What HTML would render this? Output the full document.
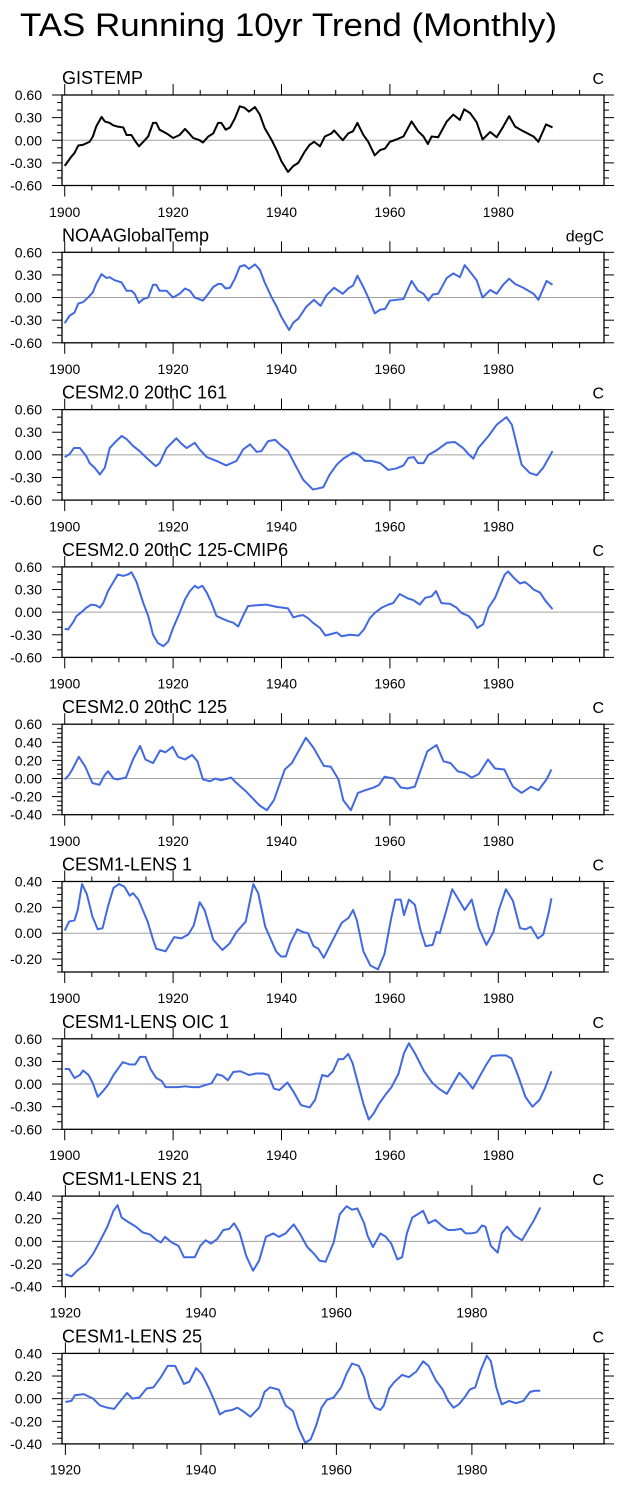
<!DOCTYPE html>
<html><head><meta charset="utf-8"><style>
html,body{margin:0;padding:0;background:#fff;}
svg{display:block;font-family:"Liberation Sans",Arial,sans-serif;}
</style></head><body>
<svg id="fig" width="624" height="1485" viewBox="0 0 624 1485" xmlns="http://www.w3.org/2000/svg">
<text x="20" y="36" font-size="32" textLength="537" lengthAdjust="spacingAndGlyphs">TAS Running 10yr Trend (Monthly)</text>
</svg>
<script>
// ---- data (years / values per panel) ----
const titles = ["GISTEMP","NOAAGlobalTemp","CESM2.0 20thC 161","CESM2.0 20thC 125-CMIP6","CESM2.0 20thC 125","CESM1-LENS 1","CESM1-LENS OIC 1","CESM1-LENS 21","CESM1-LENS 25"];
const units = ["C","degC","C","C","C","C","C","C","C"];

const yrs1 = [1900,1900.6,1901.2,1901.8,1902.5,1903.4,1904.6,1905.2,1905.8,1906.8,1907.4,1908.3,1908.9,1909.8,1910.8,1911.4,1912.3,1912.9,1913.7,1914.5,1915.4,1916.3,1916.9,1917.5,1918.8,1920,1921.2,1922.2,1923.1,1923.7,1924.9,1925.5,1926.5,1927.4,1928.3,1928.9,1929.7,1930.5,1931.4,1932.3,1933.2,1934,1935.1,1936,1936.9,1938.2,1939.1,1940,1941.2,1942.2,1943.1,1944.3,1945.2,1946,1947.1,1948,1949.2,1949.7,1951.3,1952.3,1953.2,1954,1955.1,1956,1957.2,1958.2,1959.1,1960,1961.2,1962.5,1964,1965.2,1966.2,1967,1967.7,1968.9,1970.5,1971.7,1972.9,1973.7,1974.8,1976,1977.1,1978.5,1979.7,1980.9,1982,1983.1,1984.6,1986.5,1987.4,1988.8,1990];
const vals1 = [-0.34,-0.28,-0.22,-0.17,-0.07,-0.06,-0.02,0.05,0.18,0.31,0.25,0.23,0.20,0.18,0.17,0.07,0.07,0.0,-0.08,-0.02,0.05,0.23,0.23,0.14,0.09,0.03,0.07,0.15,0.08,0.03,0.0,-0.03,0.05,0.09,0.23,0.23,0.14,0.17,0.29,0.45,0.43,0.38,0.44,0.34,0.16,0.0,-0.13,-0.28,-0.42,-0.34,-0.30,-0.15,-0.06,-0.02,-0.08,0.05,0.09,0.13,0.0,0.09,0.12,0.23,0.07,-0.02,-0.20,-0.13,-0.11,-0.02,0.01,0.05,0.25,0.12,0.05,-0.05,0.05,0.04,0.25,0.34,0.27,0.41,0.36,0.24,0.01,0.11,0.04,0.18,0.32,0.18,0.12,0.05,-0.02,0.21,0.17];

const yrs2 = [1900,1900.9,1901.8,1902.5,1903.4,1904.3,1905.2,1905.8,1906.8,1907.7,1908.3,1909.2,1910.5,1911.4,1912.3,1912.9,1913.7,1914.5,1915.4,1916.3,1916.9,1917.5,1918.8,1920,1921.2,1922.2,1923.1,1924,1925.5,1926.5,1927.4,1928.3,1928.9,1929.7,1930.5,1931.4,1932.3,1933.2,1934,1935.1,1936,1936.9,1938.2,1939.1,1940,1941.4,1942.2,1943.1,1944.6,1945.2,1946,1947.2,1948.3,1949.7,1951.3,1952.3,1953.2,1954,1955.1,1956,1957.2,1958.2,1959.1,1960,1961.2,1962.5,1964,1965.2,1966.2,1967.1,1967.9,1968.9,1970.5,1971.7,1972.9,1973.8,1974.8,1976,1977.1,1978.5,1979.7,1980.9,1982,1983.1,1984.6,1986.5,1987.4,1988.9,1990];
const vals2 = [-0.34,-0.24,-0.2,-0.08,-0.06,0,0.07,0.18,0.31,0.26,0.27,0.23,0.2,0.09,0.09,0.05,-0.07,-0.02,0,0.17,0.17,0.09,0.09,0,0.05,0.12,0.09,0,-0.04,0.05,0.14,0.18,0.18,0.12,0.13,0.25,0.41,0.43,0.38,0.44,0.37,0.2,0,-0.12,-0.26,-0.43,-0.33,-0.28,-0.12,-0.08,-0.03,-0.11,0.03,0.13,0.05,0.12,0.16,0.29,0.14,0,-0.21,-0.16,-0.15,-0.04,-0.03,-0.02,0.22,0.09,0.05,-0.04,0.04,0.05,0.26,0.32,0.27,0.43,0.34,0.23,0,0.1,0.05,0.17,0.25,0.18,0.13,0.05,-0.03,0.22,0.17];

const yrs3 = [1900,1900.9,1901.7,1902.8,1904,1904.6,1905.5,1906.5,1907.4,1908.3,1909.2,1910.5,1911.4,1912.6,1913.8,1915.1,1916.8,1917.5,1918.8,1920.6,1921.5,1922.5,1924,1924.9,1926.2,1928,1929.8,1931.7,1932.9,1934.2,1935.4,1936.3,1937.5,1938.8,1940,1941.2,1942.5,1944,1945.8,1947.7,1948.9,1950.2,1951.4,1953.2,1954.2,1955.4,1956.6,1958.2,1959.7,1961.2,1962.5,1963.4,1964.4,1965.2,1966.2,1967.1,1968.6,1970.5,1972,1973.5,1974.5,1975.4,1976.3,1978.2,1979.7,1981.5,1982.5,1984.3,1985.8,1987.1,1988.3,1990];
const vals3 = [-0.03,0.01,0.09,0.09,-0.02,-0.11,-0.17,-0.26,-0.17,0.09,0.16,0.25,0.21,0.12,0.05,-0.04,-0.15,-0.11,0.09,0.22,0.15,0.09,0.16,0.07,-0.03,-0.08,-0.14,-0.08,0.07,0.14,0.04,0.05,0.18,0.2,0.12,0.05,-0.13,-0.33,-0.46,-0.43,-0.26,-0.13,-0.05,0.03,0,-0.08,-0.08,-0.11,-0.2,-0.18,-0.14,-0.04,-0.03,-0.11,-0.11,0,0.06,0.16,0.17,0.09,0.01,-0.05,0.09,0.25,0.4,0.5,0.4,-0.13,-0.24,-0.27,-0.17,0.05];

const yrs4 = [1900,1900.6,1901.5,1902.2,1903.1,1904,1904.9,1905.8,1906.5,1907.1,1908,1908.9,1909.8,1910.8,1911.7,1912.3,1913.2,1914.5,1915.4,1916.3,1917.2,1918.2,1919.1,1920,1921.2,1922.2,1923.1,1924,1924.6,1925.4,1926.2,1927.1,1928,1929.2,1930.2,1931.1,1932,1932.9,1933.8,1935.1,1937.2,1939.1,1941.2,1942.2,1943.1,1944,1944.9,1945.8,1947.1,1948.1,1949.2,1950.2,1951.1,1952.6,1954.2,1955.2,1956.3,1957.2,1958.5,1959.7,1960.6,1961.8,1963.4,1964.3,1965.5,1966.5,1967.7,1968.5,1969.5,1971.1,1972.3,1973.2,1974.5,1975.4,1976.1,1977.2,1978.2,1979.4,1980.3,1981.2,1981.8,1982.8,1984,1984.9,1985.8,1986.5,1987.7,1988.6,1990];
const vals4 = [-0.22,-0.23,-0.14,-0.05,0,0.06,0.1,0.09,0.06,0.12,0.28,0.39,0.5,0.48,0.5,0.53,0.41,0.12,-0.05,-0.3,-0.41,-0.45,-0.39,-0.21,-0.01,0.17,0.28,0.35,0.32,0.35,0.26,0.12,-0.05,-0.09,-0.12,-0.14,-0.19,-0.05,0.08,0.09,0.1,0.07,0.05,-0.07,-0.05,-0.04,-0.08,-0.14,-0.21,-0.31,-0.29,-0.27,-0.32,-0.3,-0.31,-0.23,-0.08,-0.01,0.06,0.1,0.12,0.24,0.18,0.16,0.1,0.19,0.21,0.28,0.12,0.11,0.06,-0.01,-0.05,-0.12,-0.21,-0.16,0.06,0.19,0.35,0.5,0.54,0.46,0.38,0.4,0.35,0.3,0.26,0.16,0.04];

const yrs5 = [1900,1900.8,1901.4,1902.6,1903.8,1905.1,1906.4,1907.4,1908,1909,1909.7,1911.3,1912.6,1913.9,1914.9,1916.3,1917.6,1918.6,1919.9,1920.9,1922.2,1923.5,1924.5,1925.5,1926.8,1927.8,1928.8,1930.7,1931.7,1933.4,1934.7,1936,1937.3,1938.6,1940.6,1941.9,1944.5,1945.9,1947.8,1949.1,1950.5,1951.4,1952.8,1954.1,1955.4,1957,1958,1959,1960.7,1962,1963.3,1964.6,1965.9,1966.9,1968.6,1969.9,1971.2,1972.5,1973.8,1975.1,1976.4,1978.1,1979.4,1981.1,1982.7,1984.3,1986,1987.4,1988.9,1989.8];
const vals5 = [-0.01,0.04,0.1,0.24,0.13,-0.05,-0.07,0.04,0.08,0,-0.01,0.01,0.21,0.36,0.21,0.17,0.31,0.29,0.35,0.24,0.21,0.26,0.19,-0.01,-0.03,0,-0.02,0.01,-0.05,-0.14,-0.22,-0.3,-0.35,-0.24,0.1,0.17,0.45,0.34,0.14,0.13,-0.01,-0.24,-0.35,-0.16,-0.13,-0.1,-0.07,0.02,0,-0.1,-0.11,-0.09,0.13,0.3,0.37,0.19,0.17,0.08,0.06,0.01,0.05,0.21,0.11,0.1,-0.09,-0.16,-0.09,-0.13,-0.01,0.1];

const yrs6 = [1900,1900.8,1901.8,1902.4,1903.2,1904.1,1905.1,1906.1,1907,1908,1909,1910,1911,1912,1912.6,1913.6,1915.3,1916.3,1916.9,1918.6,1920.2,1921.5,1922.8,1923.8,1924.9,1925.8,1927.4,1929.1,1930.4,1931.7,1933.4,1934.8,1935.7,1937,1939,1939.9,1940.8,1941.6,1942.9,1943.9,1944.9,1945.9,1946.8,1947.8,1949.5,1951.1,1952.4,1953.2,1953.9,1955.1,1956.4,1957.8,1959,1960.3,1961,1962,1962.6,1963.5,1964.6,1965.6,1966.6,1967.9,1968.6,1969.2,1970.5,1971.5,1972.8,1973.8,1975.1,1976.4,1977.8,1979.1,1980.1,1981.4,1982.7,1984,1985,1986,1987.3,1988.3,1989.3,1989.8];
const vals6 = [0.02,0.09,0.1,0.18,0.38,0.3,0.13,0.03,0.04,0.21,0.35,0.38,0.36,0.29,0.31,0.26,0.09,-0.05,-0.12,-0.14,-0.03,-0.04,-0.01,0.06,0.24,0.18,-0.05,-0.13,-0.08,0.01,0.09,0.38,0.31,0.05,-0.14,-0.18,-0.18,-0.08,0.03,0.01,0,-0.1,-0.12,-0.19,-0.05,0.08,0.12,0.18,0.1,-0.14,-0.25,-0.28,-0.16,0.13,0.26,0.26,0.14,0.26,0.22,0.03,-0.1,-0.09,0.01,0,0.19,0.34,0.25,0.18,0.26,0.04,-0.09,0.01,0.18,0.34,0.25,0.04,0.03,0.05,-0.04,-0.01,0.16,0.27];

const yrs7 = [1900,1900.8,1901.8,1902.8,1903.4,1904.4,1905.2,1906.1,1907,1908,1909,1910.7,1912,1913,1913.9,1914.9,1915.9,1916.9,1917.9,1918.6,1919.5,1920.9,1922.2,1923.5,1924.8,1926.1,1927.1,1928.1,1929.1,1930.1,1931.1,1932.4,1934,1935.3,1936.6,1937.6,1938.6,1939.6,1941.1,1942.2,1943.6,1945.2,1946.2,1947.5,1948.5,1949.5,1950.5,1951.4,1952.3,1953.1,1954.1,1955.1,1956.1,1957,1958,1959.3,1960.3,1961.6,1962.6,1963.5,1964.6,1966.3,1967.9,1969.2,1970.5,1971.5,1972.8,1974.1,1975.3,1976.4,1977.8,1978.8,1980.1,1981.4,1982.4,1983.7,1985,1986.3,1987.6,1988.6,1989.8];
const vals7 = [0.2,0.2,0.08,0.12,0.18,0.12,0.01,-0.17,-0.1,-0.01,0.12,0.29,0.26,0.26,0.36,0.36,0.19,0.08,0.04,-0.04,-0.04,-0.04,-0.03,-0.04,-0.04,-0.01,0.01,0.13,0.11,0.05,0.16,0.17,0.12,0.14,0.14,0.12,-0.06,-0.08,0.02,-0.1,-0.28,-0.31,-0.21,0.12,0.1,0.17,0.33,0.33,0.4,0.28,0.01,-0.26,-0.47,-0.39,-0.26,-0.13,-0.04,0.14,0.41,0.54,0.41,0.17,0.01,-0.07,-0.13,-0.01,0.15,0.05,-0.06,0.08,0.26,0.37,0.38,0.38,0.34,0.1,-0.17,-0.3,-0.21,-0.06,0.17];

const yrs8 = [1920,1920.9,1921.7,1923,1924.1,1925,1926.2,1927.1,1927.7,1928.3,1929.3,1930.4,1931.4,1932.5,1933.5,1934.1,1934.7,1935.7,1936.7,1937.5,1939.1,1939.9,1940.7,1941.5,1942.4,1943.3,1944.2,1944.9,1945.7,1946.7,1947.7,1948.6,1949.6,1950.7,1951.5,1952.5,1953.7,1954.6,1955.7,1956.7,1957.5,1958.4,1959.6,1960.5,1961.5,1962.3,1963.1,1964.1,1964.6,1965.4,1966.5,1967.3,1968.1,1969,1969.7,1970.4,1971.2,1972.8,1973.6,1974.6,1975.7,1976.5,1977.3,1978.4,1979.1,1979.9,1980.7,1981.5,1982,1982.8,1983.8,1984.4,1985.2,1986.3,1987.4,1988.4,1989.2,1990.1];
const vals8 = [-0.29,-0.31,-0.26,-0.2,-0.11,-0.01,0.13,0.27,0.32,0.21,0.17,0.13,0.08,0.06,0.01,-0.01,0.04,-0.01,-0.04,-0.14,-0.14,-0.04,0.01,-0.02,0.02,0.1,0.11,0.16,0.08,-0.13,-0.26,-0.17,0.04,0.07,0.04,0.07,0.15,0.07,-0.05,-0.11,-0.17,-0.18,-0.01,0.24,0.31,0.28,0.29,0.16,0.05,-0.05,0.07,0.04,-0.02,-0.16,-0.14,0.07,0.21,0.27,0.16,0.19,0.13,0.1,0.1,0.11,0.07,0.07,0.08,0.14,0.13,-0.04,-0.1,0.07,0.13,0.05,0.01,0.11,0.19,0.3];

const yrs9 = [1920,1920.9,1921.4,1922.7,1924.1,1925.1,1926.2,1927.2,1928,1929.1,1929.9,1930.9,1932,1933,1934.1,1935.1,1936.2,1937.5,1938.3,1939.3,1940.1,1941.2,1942,1942.8,1943.6,1944.6,1945.4,1946.2,1947.3,1948.6,1949.4,1950.2,1951.5,1952.5,1953.6,1954.4,1955.4,1956.2,1957,1957.8,1958.6,1959.6,1960.7,1961.5,1962.3,1963.3,1964.1,1964.9,1965.7,1966.5,1967,1967.8,1968.6,1969.7,1970.7,1971.8,1972.8,1973.6,1974.7,1975.7,1976.5,1977.3,1978.1,1978.9,1979.7,1980.5,1981.3,1982.2,1982.8,1983.6,1984.4,1985.5,1986.5,1987.6,1988.6,1989.3,1990.1];
const vals9 = [-0.03,-0.02,0.03,0.04,0,-0.06,-0.08,-0.09,-0.03,0.05,0,0.01,0.09,0.1,0.19,0.29,0.29,0.13,0.15,0.27,0.22,0.09,-0.02,-0.14,-0.11,-0.1,-0.08,-0.11,-0.16,-0.08,0.06,0.1,0.08,-0.06,-0.11,-0.26,-0.39,-0.36,-0.24,-0.08,-0.01,0.01,0.1,0.22,0.31,0.29,0.19,0,-0.08,-0.1,-0.06,0.09,0.15,0.21,0.19,0.24,0.33,0.29,0.16,0.08,-0.02,-0.08,-0.05,0.01,0.08,0.1,0.25,0.38,0.33,0.1,-0.05,-0.02,-0.04,-0.02,0.06,0.07,0.07];

const seriesYears = [yrs1,yrs2,yrs3,yrs4,yrs5,yrs6,yrs7,yrs8,yrs9];
const seriesVals = [vals1,vals2,vals3,vals4,vals5,vals6,vals7,vals8,vals9];
const yMins = [-0.6,-0.6,-0.6,-0.6,-0.4,-0.3,-0.6,-0.4,-0.4];
const yMaxs = [0.6,0.6,0.6,0.6,0.6,0.4,0.6,0.4,0.4];
const yMajor = [0.3,0.3,0.3,0.3,0.2,0.2,0.3,0.2,0.2];
const yMinor = [0.1,0.1,0.1,0.1,0.05,0.05,0.1,0.05,0.05];
const xStarts = [1900,1900,1900,1900,1900,1900,1900,1920,1920];
const xTickLabels = [["1900","1920","1940","1960","1980"],["1900","1920","1940","1960","1980"],["1900","1920","1940","1960","1980"],["1900","1920","1940","1960","1980"],["1900","1920","1940","1960","1980"],["1900","1920","1940","1960","1980"],["1900","1920","1940","1960","1980"],["1920","1940","1960","1980"],["1920","1940","1960","1980"]];

// ---- drawing ----
const NS="http://www.w3.org/2000/svg";
const svg=document.getElementById('fig');
const L=62,R=604,PH=90.5;
function mk(tag,attrs,parent){const e=document.createElementNS(NS,tag);for(const k in attrs)e.setAttribute(k,attrs[k]);(parent||svg).appendChild(e);return e;}

for(let p=0;p<9;p++){
  const top=95+p*157.3, bot=top+PH;
  const g=mk('g',{});
  
  
  const x0=xStarts[p]-0.5, x1=x0+(xStarts[p]===1900?100:80);
  const xs=v=>L+(v-x0)/(x1-x0)*(R-L);
  const ys=v=>top+(yMaxs[p]-v)/(yMaxs[p]-yMins[p])*PH;
  // title
  const t=mk('text',{x:L,y:top-11,'font-size':18},g);t.textContent=titles[p];
  
  
  const u=mk('text',{x:R,y:top-11,'font-size':16,'text-anchor':'end'},g);u.textContent=units[p];
  
  
  // zero line
  const z=mk('line',{x1:L,x2:R,y1:ys(0),y2:ys(0),stroke:'#a0a0a0','stroke-width':1},g);
  
  
  // x ticks
  for(let yr=xStarts[p];yr<=x1;yr+=5){
    const X=xs(yr), major=(yr%20===0), len=major?11:5;
    mk('line',{x1:X,x2:X,y1:top,y2:top-len,stroke:'#000','stroke-width':1},g);
    mk('line',{x1:X,x2:X,y1:bot,y2:bot+len,stroke:'#000','stroke-width':1},g);
  }
  xTickLabels[p].forEach(s=>{
    const lb=mk('text',{x:xs(+s),y:217+p*157.2,'font-size':14,'text-anchor':'middle'},g);lb.textContent=s;
    
    
  });
  // y ticks
  const nMin=Math.round((yMaxs[p]-yMins[p])/yMinor[p]);
  for(let i=0;i<=nMin;i++){
    const v=yMins[p]+i*yMinor[p];
    const Y=ys(v);
    const major=Math.abs(v/yMajor[p]-Math.round(v/yMajor[p]))<1e-6;
    const len=major?10:5;
    mk('line',{x1:L,x2:L-len,y1:Y,y2:Y,stroke:'#000','stroke-width':1},g);
    mk('line',{x1:R,x2:R+len,y1:Y,y2:Y,stroke:'#000','stroke-width':1},g);
    if(major){
      const lb=mk('text',{x:42,y:Y+5,'font-size':14,'text-anchor':'end'},g);
      lb.textContent=v.toFixed(2).replace('-0.00','0.00');
      
      
    }
  }
  // series line
  const d=seriesYears[p].map((yr,i)=>(i?'L':'M')+xs(yr).toFixed(2)+' '+ys(seriesVals[p][i]).toFixed(2)).join(' ');
  const ln=mk('path',{d:d,fill:'none',stroke:p===0?'#000':'#4169e1','stroke-width':2,'stroke-linejoin':'round'},g);
  
  
  // frame
  const fr=mk('rect',{x:L,y:top,width:R-L,height:PH,fill:'none',stroke:'#000','stroke-width':1.3},g);
  
  
}
</script>
</body></html>
